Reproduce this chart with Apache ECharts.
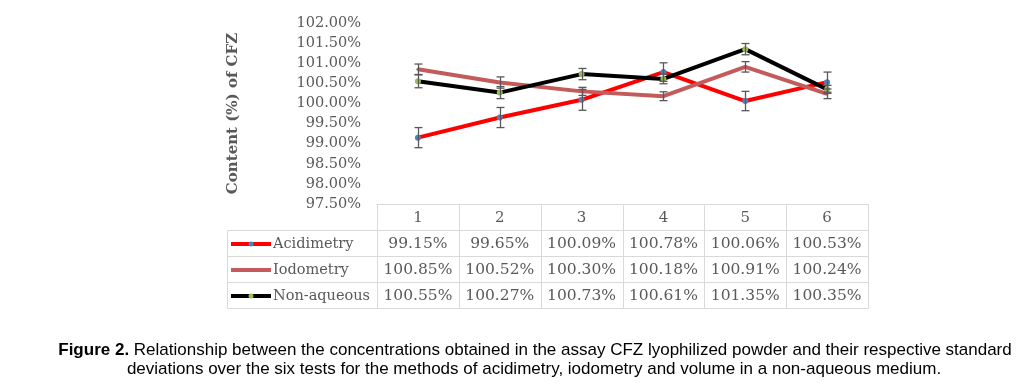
<!DOCTYPE html>
<html>
<head>
<meta charset="utf-8">
<script src="https://cdn.jsdelivr.net/npm/echarts@6/dist/echarts.min.js"></script>
<style>
html,body{margin:0;padding:0;background:#fff;}
#chart{width:1033px;height:386px;}
</style>
</head>
<body>
<div id="chart"></div>
<script>
// ---- data ----
const categories = ['1', '2', '3', '4', '5', '6'];
const seriesNames = ['Acidimetry', 'Iodometry', 'Non-aqueous'];
const acidimetry = [99.15, 99.65, 100.09, 100.78, 100.06, 100.53];
const iodometry = [100.85, 100.52, 100.30, 100.18, 100.91, 100.24];
const nonAqueous = [100.55, 100.27, 100.73, 100.61, 101.35, 100.35];
const acidimetryErr = [0.25, 0.25, 0.26, 0.23, 0.24, 0.25];
const iodometryErr = [0.13, 0.14, 0.10, 0.11, 0.13, 0.12];
const nonAqueousErr = [0.16, 0.15, 0.14, 0.12, 0.14, 0.10];
const yMin = 97.5, yMax = 102, yStep = 0.5;
const yAxisTitle = 'Content (%) of CFZ';
const captionBold = 'Figure 2.';
const captionLine1 = ' Relationship between the concentrations obtained in the assay CFZ lyophilized powder and their respective standard';
const captionLine2 = 'deviations over the six tests for the methods of acidimetry, iodometry and volume in a non-aqueous medium.';

// ---- styles ----
const lineColors = ['#FF0000', '#C35A5C', '#000000'];
const markerColors = ['#4F81BD', '#C35A5C', '#9BBB59'];
const FONT = 'DejaVu Serif';
const TXT = '#595959';
const GRID_LINE = '#D9D9D9';

const values = [acidimetry, iodometry, nonAqueous];
const errs = [acidimetryErr, iodometryErr, nonAqueousErr];
const pct = v => v.toFixed(2) + '%';

const chart = echarts.init(document.getElementById('chart'), null, {renderer: 'canvas'});

const lineSeries = values.map((vals, i) => ({
  name: seriesNames[i],
  type: 'line',
  data: vals,
  symbol: 'circle',
  symbolSize: i === 1 ? 3 : 6,
  showSymbol: true,
  lineStyle: {color: lineColors[i], width: 4},
  itemStyle: {color: markerColors[i], borderWidth: 0},
  z: 2 + i,
  animation: false
}));

const errSeries = errs.map((err, i) => ({
  type: 'custom',
  name: seriesNames[i] + ' error',
  data: values[i].map((v, k) => [k, v - err[k], v + err[k]]),
  z: 10,
  animation: false,
  renderItem: function (params, api) {
    const lo = api.coord([api.value(0), api.value(1)]);
    const hi = api.coord([api.value(0), api.value(2)]);
    const x = Math.round(lo[0]) + 0.5;
    const half = 4;
    const st = {stroke: '#595959', lineWidth: 1.3};
    return {
      type: 'group',
      children: [
        {type: 'line', shape: {x1: x, y1: lo[1], x2: x, y2: hi[1]}, style: st},
        {type: 'line', shape: {x1: x - half, y1: lo[1], x2: x + half, y2: lo[1]}, style: st},
        {type: 'line', shape: {x1: x - half, y1: hi[1], x2: x + half, y2: hi[1]}, style: st}
      ]
    };
  }
}));

chart.setOption({
  backgroundColor: '#fff',
  animation: false,
  grid: {left: 377, right: 165, top: 23, bottom: 182, containLabel: false},
  xAxis: {
    type: 'category',
    data: categories,
    boundaryGap: true,
    axisLine: {show: true, lineStyle: {color: GRID_LINE, width: 1}},
    axisTick: {show: false},
    axisLabel: {show: false},
    splitLine: {show: false}
  },
  yAxis: {
    type: 'value',
    min: yMin, max: yMax, interval: yStep,
    name: yAxisTitle,
    nameLocation: 'middle',
    nameRotate: 90,
    nameGap: 136,
    nameTextStyle: {fontFamily: FONT, fontWeight: 'bold', fontSize: 15, color: TXT},
    axisLine: {show: false},
    axisTick: {show: false},
    splitLine: {show: false},
    axisLabel: {formatter: v => pct(v), fontFamily: FONT, fontSize: 14.5, color: TXT, margin: 16}
  },
  series: lineSeries.concat(errSeries)
});

// ---- data table under the plot, aligned to the category axis ----
function buildTable() {
  const centers = categories.map((c, i) => chart.convertToPixel({xAxisIndex: 0}, i));
  const colW = centers.length > 1 ? centers[1] - centers[0] : 80;
  const tableLeft = 227;
  const firstColRight = centers[0] - colW / 2;
  const right = centers[centers.length - 1] + colW / 2;
  const top = chart.convertToPixel({yAxisIndex: 0}, yMin);
  const rowH = 26;
  const rows = [top, top + rowH, top + 2 * rowH, top + 3 * rowH, top + 4 * rowH];
  const el = [];
  const ln = (x1, y1, x2, y2) => el.push({type: 'line', shape: {x1, y1, x2, y2}, style: {stroke: GRID_LINE, lineWidth: 1}, z: 50});
  const rx = v => Math.round(v) + 0.5;
  // horizontal
  ln(rx(firstColRight), rx(rows[0]), rx(right), rx(rows[0]));
  for (let r = 1; r < rows.length; r++) ln(rx(tableLeft), rx(rows[r]), rx(right), rx(rows[r]));
  // vertical
  ln(rx(tableLeft), rx(rows[1]), rx(tableLeft), rx(rows[4]));
  for (let c = 0; c <= categories.length; c++) {
    const x = firstColRight + c * colW;
    ln(rx(x), rx(rows[0]), rx(x), rx(rows[4]));
  }
  // header
  categories.forEach((c, i) => el.push({
    type: 'text', z: 51,
    style: {text: c, x: centers[i], y: (rows[0] + rows[1]) / 2 + 1, textAlign: 'center', textVerticalAlign: 'middle',
      font: '15px "' + FONT + '"', fill: TXT}
  }));
  // body rows
  values.forEach((vals, r) => {
    const cy = (rows[r + 1] + rows[r + 2]) / 2 + 1;
    // legend key
    el.push({type: 'line', z: 51, shape: {x1: 231, y1: cy, x2: 271, y2: cy},
      style: {stroke: lineColors[r], lineWidth: 4}});
    el.push({type: 'circle', z: 52, shape: {cx: 251, cy: cy, r: r === 1 ? 1.5 : 2.5},
      style: {fill: markerColors[r]}});
    el.push({type: 'text', z: 51, style: {text: seriesNames[r], x: 273, y: cy, textAlign: 'left', textVerticalAlign: 'middle',
      font: '14.5px "' + FONT + '"', fill: TXT}});
    vals.forEach((v, i) => el.push({
      type: 'text', z: 51,
      style: {text: pct(v), x: centers[i], y: cy, textAlign: 'center', textVerticalAlign: 'middle',
        font: '15.5px "' + FONT + '"', fill: TXT}
    }));
  });
  // caption
  el.push({type: 'text', z: 51, style: {
    text: '{b|' + captionBold + '}{n|' + captionLine1 + '}', x: 535, y: 350, textAlign: 'center', textVerticalAlign: 'middle',
    rich: {b: {fontFamily: 'Liberation Sans', fontWeight: 'bold', fontSize: 17, fill: '#000'},
           n: {fontFamily: 'Liberation Sans', fontSize: 17, fill: '#000'}}
  }});
  el.push({type: 'text', z: 51, style: {
    text: captionLine2, x: 534, y: 369, textAlign: 'center', textVerticalAlign: 'middle',
    font: '17px "Liberation Sans"', fill: '#000'
  }});
  chart.setOption({graphic: {elements: el}});
}
buildTable();
</script>
</body>
</html>
